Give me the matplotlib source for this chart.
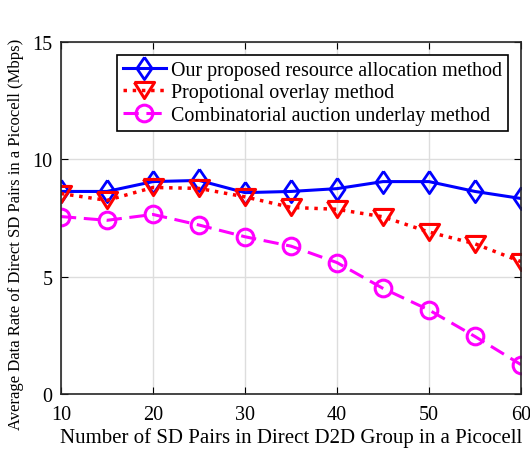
import matplotlib
matplotlib.use("Agg")
import matplotlib.pyplot as plt

plt.rcParams['font.family'] = ['Liberation Serif', 'DejaVu Serif']

# Data
pairs = [10, 15, 20, 25, 30, 35, 40, 45, 50, 55, 60]
proposed = [8.63, 8.63, 9.05, 9.1, 8.58, 8.63, 8.75, 9.05, 9.05, 8.63, 8.33]
overlay = [8.54, 8.25, 8.8, 8.76, 8.4, 7.95, 7.87, 7.55, 6.9, 6.4, 5.64]
underlay = [7.56, 7.4, 7.65, 7.2, 6.7, 6.3, 5.6, 4.5, 3.58, 2.45, 1.25]

# matlab-like marker shapes (tall diamond, wide down-triangle)
diamond = [(0, 1), (0.68, 0), (0, -1), (-0.68, 0), (0, 1)]
tri_down = [(-1, 0.8), (1, 0.8), (0, -0.8), (-1, 0.8)]

fig = plt.figure(figsize=(5.3, 4.56), dpi=100)
ax = fig.add_axes([0.115, 0.1338, 0.868, 0.772])

ax.plot(pairs, proposed, color='blue', linestyle='-', linewidth=2.2, marker=diamond,
        markersize=16, markerfacecolor='none', markeredgewidth=2,
        label='Our proposed resource allocation method')
ax.plot(pairs, overlay, color='red', linestyle=':', linewidth=2.5, marker=tri_down,
        markersize=14.5, markerfacecolor='none', markeredgewidth=2.2,
        label='Propotional overlay method')
ax.plot(pairs, underlay, color='magenta', linestyle=(0, (5, 2.5)), linewidth=2.2, marker='o',
        markersize=12, markerfacecolor='none', markeredgewidth=2.2,
        label='Combinatorial auction underlay method')

ax.set_xlim(10, 60)
ax.set_ylim(0, 15)
ax.set_xticks([10, 20, 30, 40, 50, 60])
ax.set_yticks([0, 5, 10, 15])
ax.grid(True, color='#dddddd', linewidth=1)
ax.tick_params(direction='in', top=True, right=True, labelsize=14.5, length=5)
ax.tick_params(axis='x', pad=8)
ax.tick_params(axis='y', pad=6)
for s in ax.spines.values():
    s.set_linewidth(1.2)
    s.set_color('#262626')

ax.set_xlabel('Number of SD Pairs in Direct D2D Group in a Picocell', fontsize=15, labelpad=2)
ax.set_ylabel('Average Data Rate of Direct SD Pairs in a Picocell (Mbps)', fontsize=12)
ax.yaxis.set_label_coords(-0.081, 0.455)

leg = ax.legend(loc='upper right', fontsize=14.4, fancybox=False, framealpha=1,
                edgecolor='black', handlelength=2.15, borderpad=0.3,
                labelspacing=0.17, handletextpad=0.25, borderaxespad=0.65)
leg.get_frame().set_linewidth(1.2)

fig.savefig('out.png', dpi=100)
